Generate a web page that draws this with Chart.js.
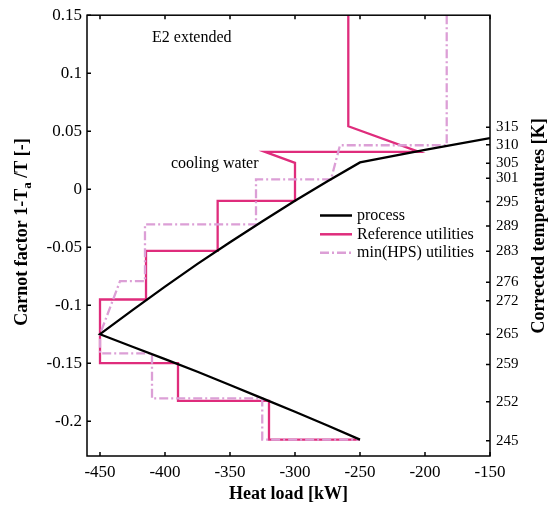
<!DOCTYPE html>
<html>
<head>
<meta charset="utf-8">
<script src="https://cdn.jsdelivr.net/npm/chart.js@4/dist/chart.umd.min.js"></script>
<style>
  body { margin: 0; background: #fff; }
  canvas { display: block; }
</style>
</head>
<body>
<canvas id="carnot-chart" width="548" height="513"></canvas>
<script>
// ambient temperature used for the right axis (K)
const Ta = 298.15;

const xTicks = [-450, -400, -350, -300, -250, -200, -150];
const yTicks = [-0.2, -0.15, -0.1, -0.05, 0, 0.05, 0.1, 0.15];
const tempTicks = [245, 252, 259, 265, 272, 276, 283, 289, 295, 301, 305, 310, 315];

// process curve
const processQ = [-250, -275, -300, -325, -350, -375, -400, -425, -450, -425, -400, -375, -350, -325, -300, -275, -250, -200, -150];
const processC = [-0.2159, -0.2037, -0.1919, -0.1803, -0.1688, -0.1574, -0.1465, -0.1358, -0.125, -0.1043, -0.0840, -0.0644, -0.0457, -0.0277, -0.0100, 0.0068, 0.0231, 0.0339, 0.0441];

// reference utilities
const refQ = [-259, -259, -204.6, -323.1, -300, -300, -359.5, -359.5, -414.6, -414.6, -450, -450, -390, -390, -320, -320, -250];
const refC = [0.15, 0.0543, 0.0322, 0.0322, 0.0227, -0.0101, -0.0101, -0.0532, -0.0532, -0.0951, -0.0951, -0.15, -0.15, -0.1825, -0.1825, -0.2158, -0.2158];

// min(HPS) utilities
const hpsQ = [-183.3, -183.3, -265.4, -272.3, -330, -330, -415.4, -415.4, -434.6, -450, -450, -410, -410, -325.2, -325.2, -250.5];
const hpsC = [0.15, 0.0379, 0.0379, 0.0084, 0.0084, -0.0304, -0.0304, -0.0793, -0.0793, -0.125, -0.1416, -0.1416, -0.1804, -0.1804, -0.2158, -0.2158];

const seriesNames = ['process', 'Reference utilities', 'min(HPS) utilities'];

function zip(xs, ys) {
    return xs.map((x, i) => ({ x: x, y: ys[i] }));
}

const black = '#000000';
const red = '#df2c7c';
const pink = '#dc9fd6';
const hpsDash = [9, 3, 2, 3];

Chart.defaults.font.family = '"Liberation Serif", "Times New Roman", serif';
Chart.defaults.color = '#000';

// box with inward ticks, titles, legend and notes
const decorations = {
    id: 'decorations',
    afterDatasetsDraw(chart) {
        const { ctx, chartArea: a, scales } = chart;
        ctx.save();
        ctx.strokeStyle = '#000';
        ctx.lineWidth = 1.5;
        ctx.strokeRect(a.left, a.top, a.right - a.left, a.bottom - a.top);
        ctx.beginPath();
        scales.x.ticks.forEach(t => {
            const px = scales.x.getPixelForValue(t.value);
            ctx.moveTo(px, a.bottom); ctx.lineTo(px, a.bottom - 4);
            ctx.moveTo(px, a.top); ctx.lineTo(px, a.top + 4);
        });
        scales.y.ticks.forEach(t => {
            const py = scales.y.getPixelForValue(t.value);
            ctx.moveTo(a.left, py); ctx.lineTo(a.left + 4, py);
        });
        scales.y2.ticks.forEach(t => {
            const py = scales.y2.getPixelForValue(t.value);
            ctx.moveTo(a.right, py); ctx.lineTo(a.right - 4, py);
        });
        ctx.stroke();

        // legend
        const ds = chart.data.datasets;
        ctx.font = '16px "Liberation Serif", serif';
        ctx.textBaseline = 'middle';
        ctx.fillStyle = '#000';
        [215.5, 234.3, 252.7].forEach((y, i) => {
            ctx.beginPath();
            ctx.lineWidth = 2.5;
            ctx.strokeStyle = ds[i].borderColor;
            ctx.setLineDash(ds[i].borderDash || []);
            ctx.moveTo(320, y); ctx.lineTo(352, y);
            ctx.stroke();
            ctx.setLineDash([]);
            ctx.fillText(ds[i].label, 357, y);
        });

        // notes
        ctx.font = '16px "Liberation Serif", serif';
        ctx.fillText('E2 extended', 152, 37.5);
        ctx.fillText('cooling water', 171, 164);

        // axis titles
        ctx.font = 'bold 18px "Liberation Serif", serif';
        ctx.textAlign = 'center';
        ctx.fillText('Heat load [kW]', (a.left + a.right) / 2, 494);

        ctx.textAlign = 'center';
        ctx.save();
        ctx.translate(539, 226);
        ctx.rotate(-Math.PI / 2);
        ctx.fillText('Corrected temperatures [K]', 0, 0);
        ctx.restore();

        // left title with subscript
        ctx.save();
        ctx.translate(22, 232);
        ctx.rotate(-Math.PI / 2);
        const big = 'bold 18px "Liberation Serif", serif';
        const small = 'bold 13px "Liberation Serif", serif';
        const parts = [['Carnot factor 1-T', big, 0], ['a', small, 6], [' /T [-]', big, 0]];
        let total = 0;
        parts.forEach(p => { ctx.font = p[1]; total += ctx.measureText(p[0]).width; });
        let x = -total / 2;
        ctx.textAlign = 'left';
        parts.forEach(p => {
            ctx.font = p[1];
            ctx.fillText(p[0], x, p[2]);
            x += ctx.measureText(p[0]).width;
        });
        ctx.restore();
        ctx.restore();
    }
};

new Chart(document.querySelector('#carnot-chart').getContext('2d'), {
    type: 'line',
    data: {
        datasets: [
            {
                label: seriesNames[0],
                data: zip(processQ, processC),
                borderColor: black,
                borderWidth: 2.3,
                order: 0
            },
            {
                label: seriesNames[1],
                data: zip(refQ, refC),
                borderColor: red,
                borderWidth: 2.3,
                order: 2
            },
            {
                label: seriesNames[2],
                data: zip(hpsQ, hpsC),
                borderColor: pink,
                borderWidth: 2.3,
                borderDash: hpsDash,
                order: 1
            }
        ]
    },
    options: {
        responsive: false,
        animation: false,
        devicePixelRatio: 1,
        layout: { padding: { top: 14, right: 0, left: 0, bottom: 0 } },
        elements: {
            point: { radius: 0 },
            line: { tension: 0, borderJoinStyle: 'miter' }
        },
        plugins: {
            legend: { display: false },
            tooltip: { enabled: false }
        },
        scales: {
            x: {
                type: 'linear',
                position: 'bottom',
                min: -460,
                max: -150,
                grid: { display: false, drawTicks: false },
                border: { display: false },
                afterBuildTicks: scale => { scale.ticks = xTicks.map(v => ({ value: v })); },
                afterFit: scale => { scale.height = 57; },
                ticks: { font: { size: 17 }, padding: 6, maxRotation: 0, autoSkip: false }
            },
            y: {
                type: 'linear',
                position: 'left',
                min: -0.23,
                max: 0.15,
                grid: { display: false, drawTicks: false },
                border: { display: false },
                afterBuildTicks: scale => { scale.ticks = yTicks.map(v => ({ value: v })); },
                afterFit: scale => { scale.width = 87; },
                ticks: {
                    font: { size: 17 },
                    padding: 5,
                    autoSkip: false,
                    callback: v => String(parseFloat(v.toFixed(2)))
                }
            },
            y2: {
                type: 'linear',
                position: 'right',
                min: -0.23,
                max: 0.15,
                grid: { display: false, drawTicks: false },
                border: { display: false },
                afterBuildTicks: scale => {
                    scale.ticks = tempTicks.map(T => ({ value: 1 - Ta / T, T: T }));
                },
                afterFit: scale => { scale.width = 58; },
                ticks: {
                    font: { size: 15 },
                    padding: 6,
                    autoSkip: false,
                    callback: (v, i) => String(tempTicks[i])
                }
            }
        }
    },
    plugins: [decorations]
});
</script>
</body>
</html>
